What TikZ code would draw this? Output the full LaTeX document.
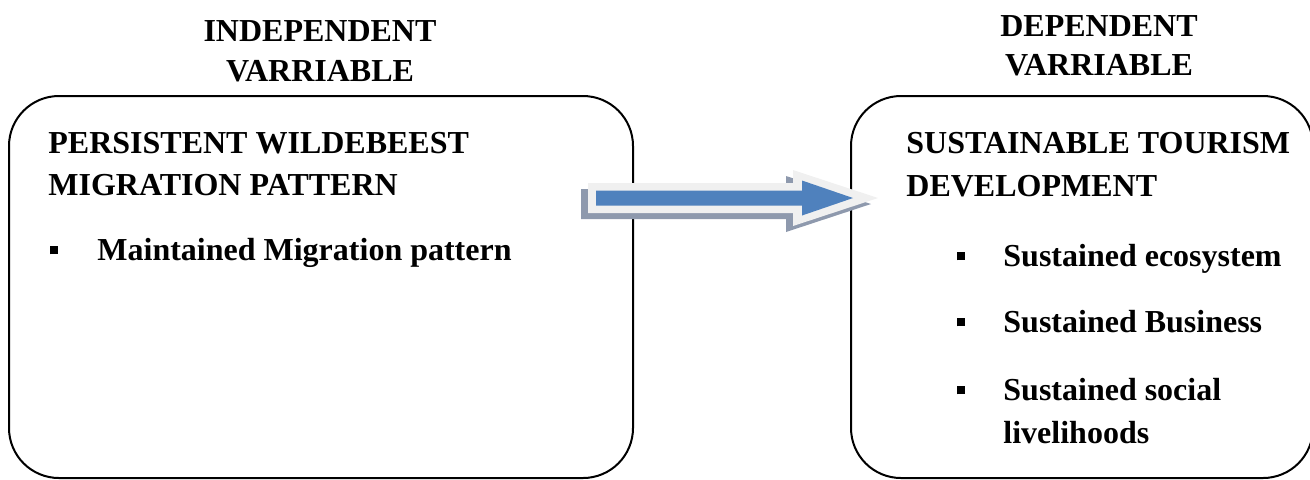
\documentclass[tikz,border=0pt]{standalone}
\usepackage{fontspec}
\setmainfont{Liberation Serif}
\definecolor{arrowblue}{HTML}{4F81BD}
\definecolor{arrowrim}{HTML}{F0F0F0}
\definecolor{arrowshade}{HTML}{8E99AD}
\tikzset{
  box/.style={draw, line width=1pt, rounded corners=25pt, inner sep=0pt},
  txt/.style={inner sep=0pt, font=\fontsize{16}{20}\selectfont\bfseries},
  ttl/.style={txt, anchor=base},
  hdr/.style={txt, anchor=base west},
  blt/.style={inner sep=0pt, anchor=base west}
}
\newcommand{\sqblt}{\raisebox{2.8pt}{\rule{4pt}{4pt}}}
\begin{document}
\begin{tikzpicture}[x=0.5pt, y=-0.5pt]
  \useasboundingbox (0,0) rectangle (1310,479);

  % the two boxes
  \node[box, minimum width=312pt, minimum height=191pt] (indep) at (321,287) {};
  \node[box, minimum width=231pt, minimum height=191pt] (dep) at (1082,287) {};

  % titles above the boxes
  \node[ttl] (indepA) at (320,41) {INDEPENDENT};
  \node[ttl] (indepB) at (320,81) {VARRIABLE};
  \node[ttl] (depA) at (1099,36) {DEPENDENT};
  \node[ttl] (depB) at (1099,75) {VARRIABLE};

  % left box
  \node[hdr] (persA) at (48,153) {PERSISTENT WILDEBEEST};
  \node[hdr] (persB) at (48,195) {MIGRATION PATTERN};
  \node[blt] (bl1) at (50,260) {\sqblt};
  \node[hdr] (mig) at (97,260) {Maintained Migration pattern};

  % right box
  \node[hdr] (sustA) at (906,153) {SUSTAINABLE TOURISM};
  \node[hdr] (sustB) at (906,196) {DEVELOPMENT};
  \foreach \n/\y/\t in {1/266/Sustained ecosystem, 2/332/Sustained Business, 3/400/Sustained social}{
    \node[blt] (br\n) at (957,\y) {\sqblt};
    \node[hdr] (it\n) at (1003,\y) {\t};
  }
  \node[hdr] (it4) at (1003,443) {livelihoods};

  % block arrow between the boxes
  \coordinate (tail) at (588,198);
  \coordinate (tip) at (878,198);
  \fill[arrowshade] ([shift={(-7,6)}]tail) ++(0,-15) -- ++(205,0) -- ++(0,-13)
    -- ([shift={(-7,6)}]tip) -- ++(-85,28) -- ++(0,-13) -- ++(-205,0) -- cycle;
  \fill[arrowrim] (tail) ++(0,-15) -- ++(205,0) -- ++(0,-13)
    -- (tip) -- ++(-85,28) -- ++(0,-13) -- ++(-205,0) -- cycle;
  \fill[arrowblue] (tail) ++(8,-7.5) -- ++(206,0) -- ++(0,-10)
    -- ++(51,17.5) -- ++(-51,17.5) -- ++(0,-10) -- ++(-206,0) -- cycle;
\end{tikzpicture}
\end{document}
